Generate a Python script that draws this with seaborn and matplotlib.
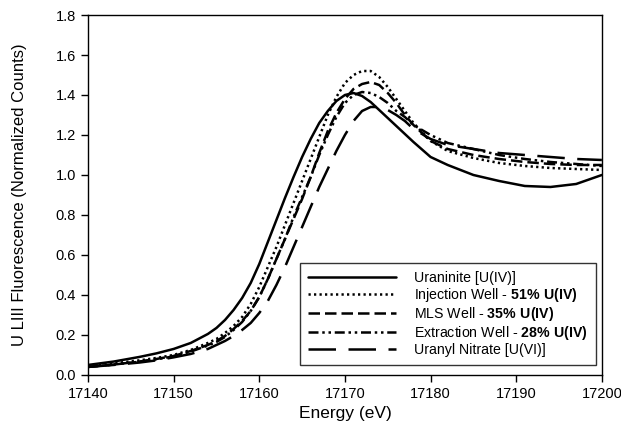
import matplotlib
matplotlib.use("Agg")
import matplotlib.pyplot as plt
import seaborn as sns

# energy grid (eV) shared by all spectra
energy = [17140, 17143, 17146, 17148, 17150, 17152, 17154, 17155, 17156, 17157,
          17158, 17159, 17160, 17161, 17162, 17163, 17164, 17165, 17166, 17167,
          17168, 17169, 17170, 17171, 17172, 17173, 17174, 17175, 17176, 17177,
          17178, 17180, 17182, 17185, 17188, 17191, 17194, 17197, 17200]

uraninite = [0.05, 0.067, 0.09, 0.108, 0.13, 0.16, 0.205, 0.235, 0.275, 0.325,
             0.385, 0.46, 0.555, 0.665, 0.775, 0.885, 0.99, 1.09, 1.18, 1.26,
             1.32, 1.37, 1.40, 1.41, 1.395, 1.365, 1.325, 1.285, 1.245, 1.205,
             1.165, 1.09, 1.05, 1.00, 0.97, 0.945, 0.94, 0.955, 1.00]

injection = [0.045, 0.058, 0.073, 0.085, 0.10, 0.125, 0.16, 0.18, 0.21, 0.245,
             0.29, 0.355, 0.44, 0.54, 0.64, 0.75, 0.86, 0.97, 1.08, 1.19,
             1.30, 1.39, 1.46, 1.50, 1.52, 1.52, 1.49, 1.44, 1.38, 1.32,
             1.26, 1.17, 1.12, 1.085, 1.06, 1.045, 1.035, 1.03, 1.025]

mls = [0.04, 0.052, 0.067, 0.08, 0.095, 0.12, 0.15, 0.17, 0.195, 0.23,
       0.27, 0.32, 0.39, 0.48, 0.58, 0.68, 0.78, 0.88, 0.99, 1.11,
       1.22, 1.31, 1.38, 1.43, 1.455, 1.465, 1.45, 1.41, 1.36, 1.30,
       1.25, 1.17, 1.13, 1.10, 1.08, 1.065, 1.055, 1.05, 1.05]

extraction = [0.04, 0.052, 0.066, 0.078, 0.093, 0.117, 0.147, 0.165, 0.19, 0.225,
              0.265, 0.32, 0.39, 0.48, 0.58, 0.68, 0.79, 0.89, 0.99, 1.10,
              1.20, 1.29, 1.36, 1.40, 1.415, 1.41, 1.39, 1.36, 1.32, 1.29,
              1.25, 1.20, 1.16, 1.13, 1.10, 1.08, 1.065, 1.055, 1.045]

uranyl = [0.04, 0.05, 0.062, 0.073, 0.088, 0.105, 0.13, 0.15, 0.17, 0.195,
          0.225, 0.26, 0.31, 0.37, 0.45, 0.54, 0.64, 0.74, 0.84, 0.94,
          1.03, 1.12, 1.20, 1.27, 1.32, 1.34, 1.34, 1.325, 1.30, 1.27,
          1.23, 1.18, 1.15, 1.13, 1.11, 1.10, 1.09, 1.08, 1.075]

labels = [
    r"Uraninite [U(IV)]",
    r"Injection Well - $\mathbf{51\%\ U(IV)}$",
    r"MLS Well - $\mathbf{35\%\ U(IV)}$",
    r"Extraction Well - $\mathbf{28\%\ U(IV)}$",
    r"Uranyl Nitrate [U(VI)]",
]

sns.set_style("ticks")
plt.rcParams["font.family"] = ["Liberation Sans", "DejaVu Sans"]
plt.rcParams["mathtext.fontset"] = "custom"
plt.rcParams["mathtext.rm"] = "Liberation Sans"
plt.rcParams["mathtext.bf"] = "Liberation Sans:bold"
plt.rcParams["text.color"] = "black"
plt.rcParams["axes.labelcolor"] = "black"

fig = plt.figure(figsize=(6.21, 4.29), dpi=100)
ax = fig.add_axes([0.1417, 0.126, 0.8275, 0.839])

styles = ["-", (0, (0.9, 1.3)), (0, (4.6, 2)), (0, (4, 1.5, 1, 1.5, 1, 1.5)), (0, (11, 5))]
for series, lab, ls in zip([uraninite, injection, mls, extraction, uranyl], labels, styles):
    sns.lineplot(x=energy, y=series, ax=ax, color="black", linestyle=ls,
                 linewidth=1.8, label=lab)

ax.set_xlim(17140, 17200)
ax.set_ylim(0, 1.8)
ax.set_xticks(range(17140, 17201, 10))
ax.set_yticks([i / 5 for i in range(10)])
ax.set_yticklabels([f"{i / 5:.1f}" for i in range(10)])
ax.tick_params(direction="out", length=5, width=1, labelsize=10.5, colors="black")
for s in ax.spines.values():
    s.set_color("black")
    s.set_linewidth(1)

ax.set_xlabel("Energy (eV)", fontsize=12.5)
ax.set_ylabel("U LIII Fluorescence (Normalized Counts)", fontsize=12)
ax.yaxis.set_label_coords(-0.118, 0.5)

leg = ax.legend(loc="lower right", bbox_to_anchor=(0.988, 0.028), fontsize=10.2,
                handlelength=6.2, handletextpad=1.3, labelspacing=0.08,
                frameon=True, fancybox=False, borderpad=0.55, borderaxespad=0)
leg.get_frame().set_edgecolor("black")
leg.get_frame().set_linewidth(1)

fig.savefig("out.png", dpi=100)
